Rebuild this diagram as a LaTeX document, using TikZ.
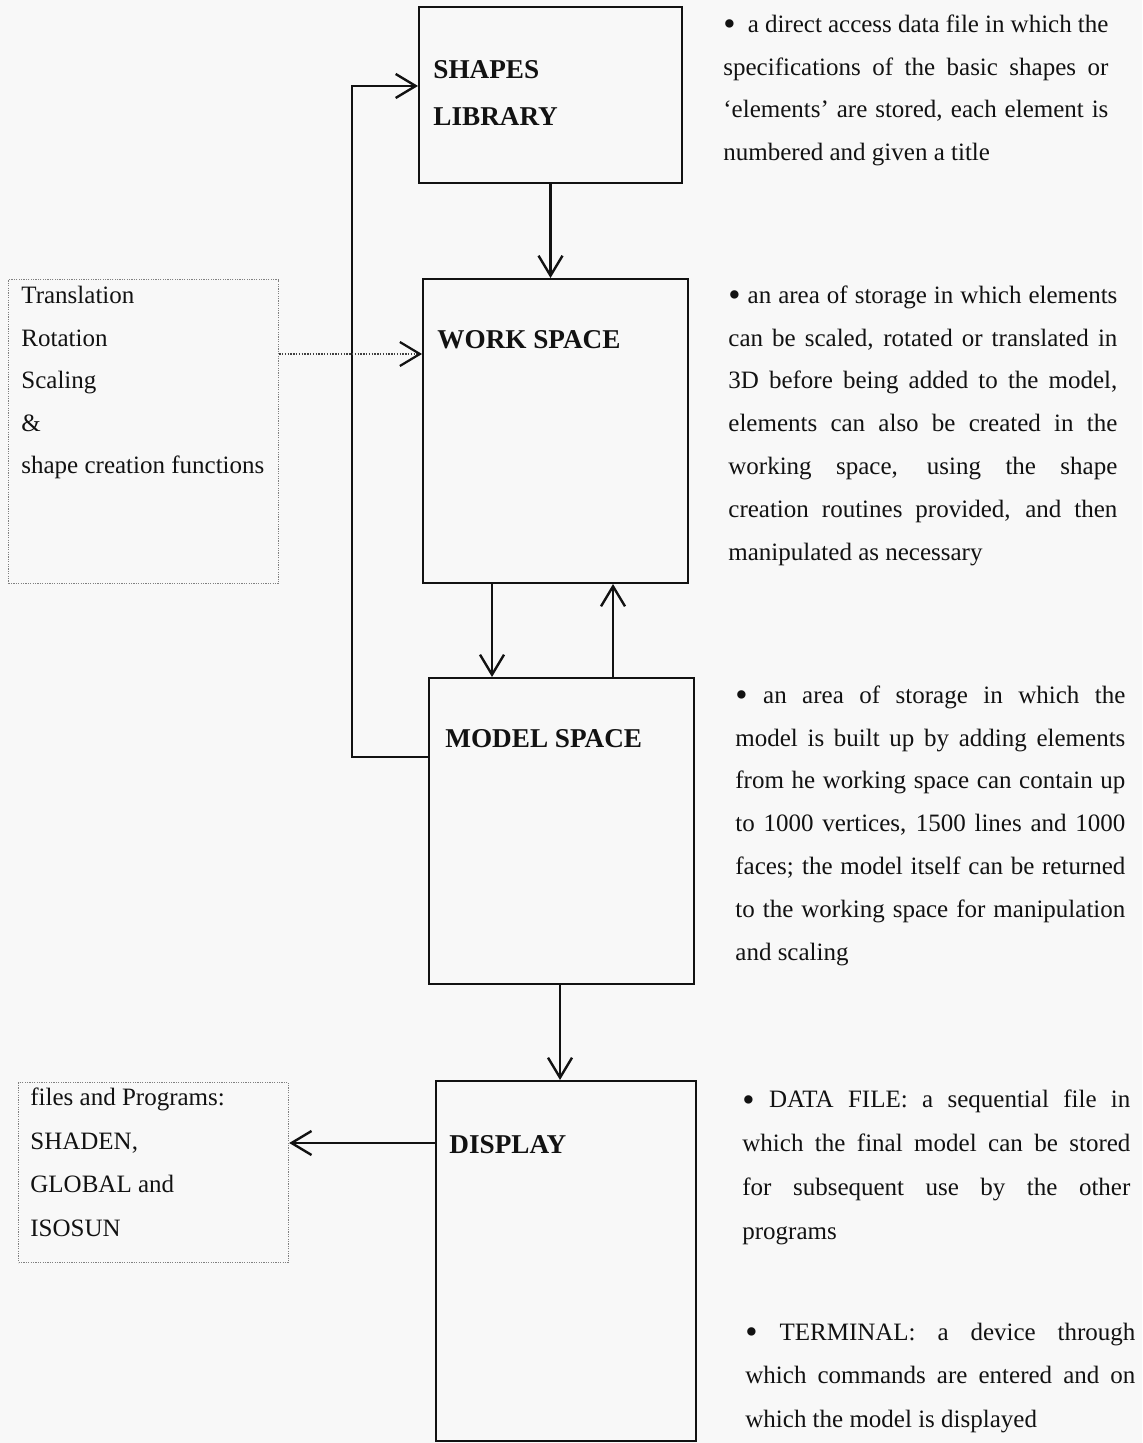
\documentclass[tikz,border=0pt]{standalone}
\usepackage{fontspec}
\setmainfont{Liberation Serif}
\usetikzlibrary{arrows.meta,calc}
\definecolor{paper}{RGB}{248,248,248}
\definecolor{ink}{RGB}{18,18,18}
% enlarged list bullet, kept centred on the x-height
\newcommand\itembullet{\raisebox{-1.8pt}{\scalebox{1.4}{•}}}

\begin{document}
\begin{tikzpicture}[x=0.5pt,y=-0.5pt,
  box/.style={draw=ink, line width=1pt, inner sep=0pt, anchor=north west},
  notebox/.style={draw=black!50, line width=0.6pt, dash pattern=on 0.6pt off 0.6pt,
                  inner sep=0pt, anchor=north west},
  flow/.style={draw=ink, line width=1.2pt,
               -{Straight Barb[length=10pt,width=12pt,line width=1.2pt]}},
  hint/.style={draw=black!75, line width=0.9pt, dash pattern=on 0.7pt off 0.7pt,
               -{Straight Barb[length=10pt,width=12pt,line width=1.1pt,color=ink]}},
  boxtitle/.style={font=\fontsize{13.6}{23.5}\selectfont\bfseries, text=ink,
                   inner sep=0pt, align=left},
  listtext/.style={font=\fontsize{12.5}{#1}\selectfont, text=ink,
                   inner sep=0pt, anchor=north west, align=left},
  descr/.style 2 args={font=\fontsize{12.5}{#2}\selectfont, text=ink, inner sep=0pt,
                       anchor=north west, align=justify, text width=#1},
]
% page
\path[use as bounding box, fill=paper] (0,0) rectangle (1142,1443);

% main chain of storage areas
\node[box, minimum width=131.5pt, minimum height=88pt]  (sl) at (418,6)    {};
\node[box, minimum width=132.5pt, minimum height=152pt] (ws) at (422,278)  {};
\node[box, minimum width=132.5pt, minimum height=153pt] (ms) at (428,677)  {};
\node[box, minimum width=130pt,   minimum height=180pt] (dp) at (435,1080) {};

\node[boxtitle, anchor=north west] (slt) at (433,45.1) {\strut SHAPES\\LIBRARY};
\node[boxtitle, anchor=base west]  (wst) at (437,349)  {WORK SPACE};
\node[boxtitle, anchor=base west]  (mst) at (445,747)  {MODEL SPACE};
\node[boxtitle, anchor=base west]  (dpt) at (449,1153) {DISPLAY};

% side boxes
\node[notebox, minimum width=135pt, minimum height=152pt] (tr) at (8,279)   {};
\node[notebox, minimum width=135pt, minimum height=90pt]  (fp) at (18,1082) {};

\node[listtext=21.3pt] (trt) at (21,273.2)
  {\strut Translation\\Rotation\\Scaling\\\&\\shape creation functions};
\node[listtext=21.8pt] (fpt) at (30,1074.5)
  {\strut files and Programs:\\SHADEN,\\GLOBAL and\\ISOSUN};

% connectors
\draw[flow] (sl.south) -- (sl.south |- ws.north);
\coordinate (wsout) at ($(ws.south west)+(70,0)$);
\draw[flow] (wsout) -- (wsout |- ms.north);
\coordinate (msup) at ($(ms.north west)+(185,0)$);
\draw[flow] (msup) -- (msup |- ws.south);
\coordinate (msdn) at ($(ms.south west)+(132,0)$);
\draw[flow] (msdn) -- (msdn |- dp.north);
\coordinate (fbstart) at ($(ms.north west)+(0,80)$);
\coordinate (fbend) at ($(sl.north west)+(0,80)$);
\draw[flow] (fbstart) -- ++(-76,0) |- (fbend);
\coordinate (trout) at ($(tr.north east)+(0,75)$);
\draw[hint] (trout) -- (trout -| ws.west);
\coordinate (dpout) at ($(dp.north west)+(0,63)$);
\draw[flow] (dpout) -- (dpout -| fp.east);

% descriptions
\node[descr={192.5pt}{21.4pt}] (d1) at (723,2)
  {\strut \itembullet\ \ a direct access data file in which the\linebreak
   specifications of the basic shapes or\linebreak
   ‘elements’ are stored, each element is\linebreak
   numbered and given a title};
\node[descr={194.5pt}{21.4pt}] (d2) at (728,273)
  {\strut \itembullet\ an area of storage in which elements\linebreak
   can be scaled, rotated or translated in\linebreak
   3D before being added to the model,\linebreak
   elements can also be created in the\linebreak
   working space, using the shape\linebreak
   creation routines provided, and then\linebreak
   manipulated as necessary};
\node[descr={195pt}{21.4pt}] (d3) at (735,673)
  {\strut \itembullet\ an area of storage in which the\linebreak
   model is built up by adding elements\linebreak
   from he working space can contain up\linebreak
   to 1000 vertices, 1500 lines and 1000\linebreak
   faces; the model itself can be returned\linebreak
   to the working space for manipulation\linebreak
   and scaling};
\node[descr={194pt}{22pt}] (d4) at (742,1076.2)
  {\strut \itembullet\ DATA FILE: a sequential file in\linebreak
   which the final model can be stored\linebreak
   for subsequent use by the other\linebreak
   programs};
\node[descr={195pt}{21.75pt}] (d5) at (745,1309.5)
  {\strut \itembullet\ TERMINAL: a device through\linebreak
   which commands are entered and on\linebreak
   which the model is displayed};
\end{tikzpicture}
\end{document}
